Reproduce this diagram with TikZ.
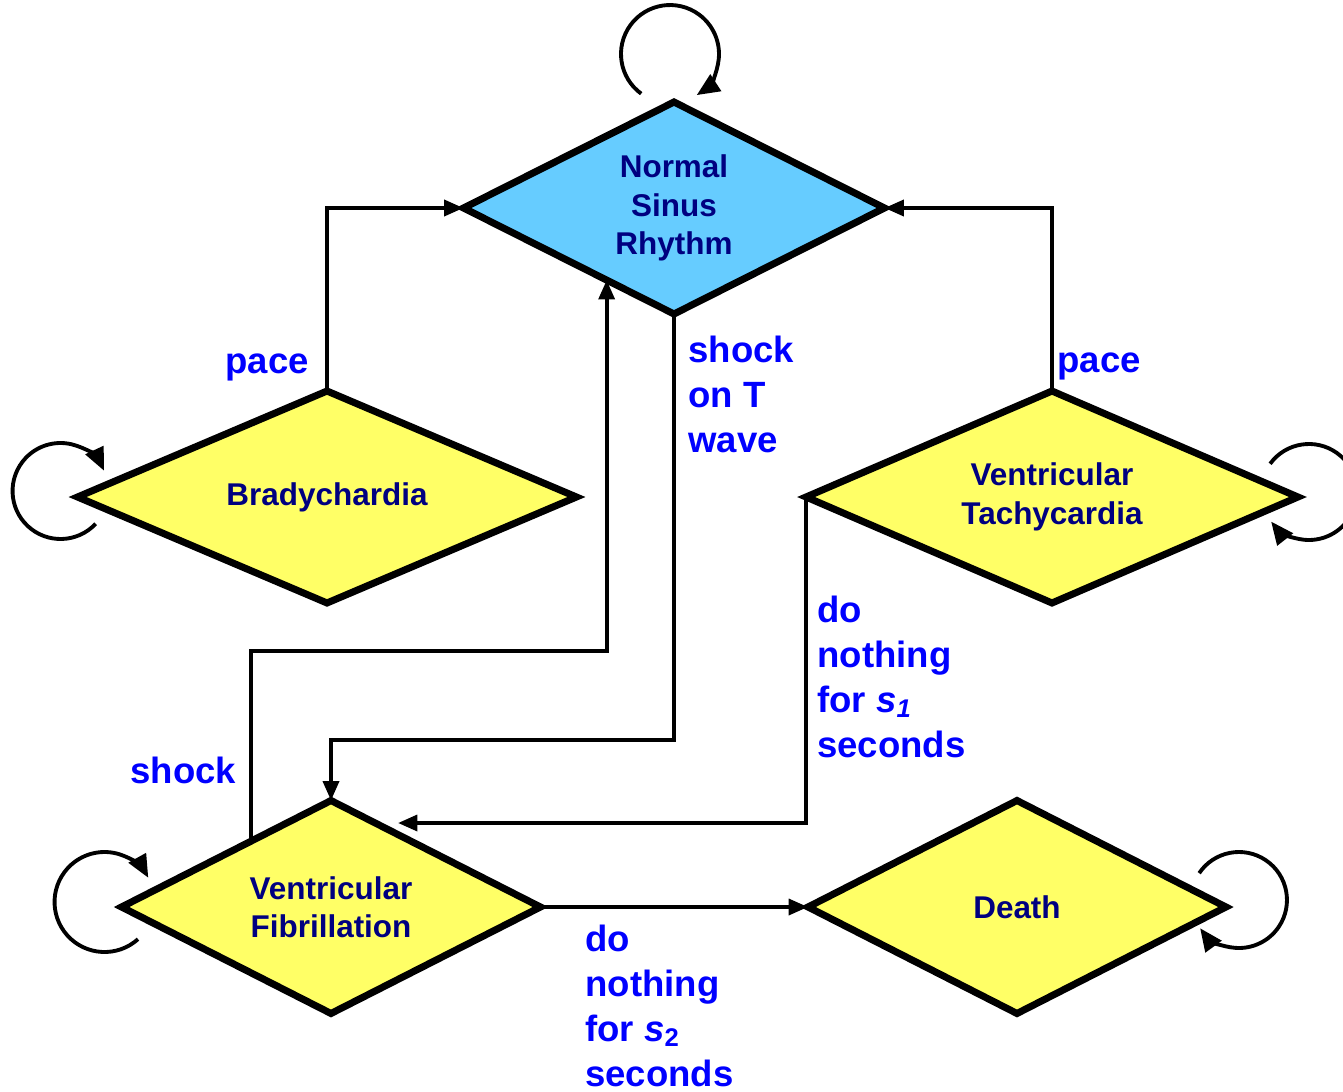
\documentclass[tikz,border=0pt]{standalone}
\usepackage{fontspec}
\setmainfont{Liberation Sans}
\usetikzlibrary{shapes.geometric,arrows.meta,calc}
\definecolor{nsrblue}{HTML}{66CCFF}
\definecolor{stateyellow}{HTML}{FFFF66}
\definecolor{statetext}{HTML}{000080}
\definecolor{labelblue}{HTML}{0000FF}
\begin{document}
\begin{tikzpicture}[x=0.02cm,y=0.02cm,
  state/.style={diamond, aspect=2, draw=black, line width=4pt, inner sep=0pt, outer sep=0pt,
    fill=stateyellow, text=statetext, align=center,
    font=\bfseries\fontsize{17.9}{21.8}\selectfont},
  arr/.style={line width=2.2pt, -{Triangle[length=11pt,width=9pt]}},
  selfloop/.style={line width=2.2pt, -{Triangle[length=13pt,width=11pt]}},
  lbl/.style={font=\bfseries\fontsize{20.8}{25.5}\selectfont, text=labelblue,
    inner sep=0pt, align=left}]
\useasboundingbox (0,0) rectangle (1343,-1092);

% states
\node[state, fill=nsrblue, minimum width=8.42cm, minimum height=4.24cm] (nsr) at (674,-208) {Normal\\Sinus\\Rhythm};
\node[state, minimum width=9.98cm, minimum height=4.24cm] (brady) at (327,-497) {Bradychardia};
\node[state, minimum width=9.84cm, minimum height=4.24cm] (vt) at (1052,-497) {Ventricular\\Tachycardia};
\node[state, minimum width=8.38cm, minimum height=4.26cm] (vf) at (331,-907) {Ventricular\\Fibrillation};
\node[state, minimum width=8.36cm, minimum height=4.26cm] (death) at (1017,-907) {Death};

% self loops
\coordinate (lnsr) at ($(nsr.north)+(-4,48)$);
\coordinate (lbrady) at ($(brady.west)+(-17,6)$);
\coordinate (lvt) at ($(vt.east)+(11,5)$);
\coordinate (lvf) at ($(vf.west)+(-17,5)$);
\coordinate (ldeath) at ($(death.east)+(13,7)$);
\draw[selfloop] (lnsr) ++(234:49) arc[start angle=234, end angle=-57, radius=49];
\draw[selfloop] (lbrady) ++(-43:48) arc[start angle=-43, end angle=-335, radius=48];
\draw[selfloop] (lvt) ++(144:48) arc[start angle=144, end angle=-142, radius=48];
\draw[selfloop] (lvf) ++(-48:50) arc[start angle=-48, end angle=-331, radius=50];
\draw[selfloop] (ldeath) ++(146:48) arc[start angle=146, end angle=-144, radius=48];

% junction levels and border points
\coordinate (k1) at (0,-740);
\coordinate (k2) at (0,-651);
\coordinate (k3) at (398,-823);
\coordinate (vfout) at ($(vf.west)!0.62!(vf.north)$);
\coordinate (nsrin) at ($(nsr.west)!0.68!(nsr.south)$);

% transitions
\draw[arr] (brady.north) |- (nsr.west);
\draw[arr] (vt.north) |- (nsr.east);
\draw[arr] (nsr.south) -- (nsr.south |- k1) -| (vf.north);
\draw[arr] (vfout) -- (vfout |- k2) -| (nsrin);
\draw[arr] (vt.west) |- (k3);
\draw[arr] (vf.east) -- (death.west);

% transition labels
\node[lbl, anchor=base east] (lpaceb) at (309,-373) {pace};
\node[lbl, anchor=north west] (lshockt) at (688,-336) {shock\\on T\\wave};
\node[lbl, anchor=base west] (lpacev) at (1057,-372) {pace};
\node[lbl, anchor=north west] (lsone) at (817,-596) {do\\nothing\\for {\itshape s}\textsubscript{\itshape 1}\\seconds};
\node[lbl, anchor=base west] (lshock) at (130,-783) {shock};
\node[lbl, anchor=north west] (lstwo) at (585,-925) {do\\nothing\\for {\itshape s}\textsubscript{2}\\seconds};
\end{tikzpicture}
\end{document}
